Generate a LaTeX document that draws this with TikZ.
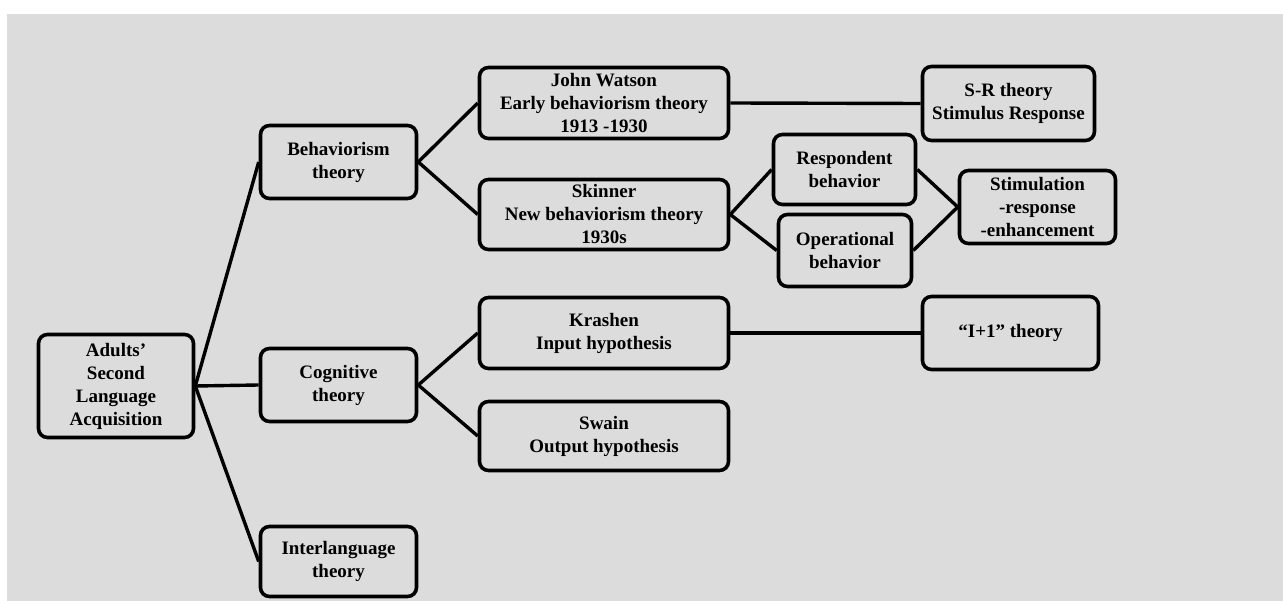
\documentclass[tikz,border=0pt]{standalone}
\usepackage{fontspec}
\setmainfont{Liberation Serif}
\definecolor{bggray}{RGB}{220,220,220}
\begin{document}
\begin{tikzpicture}[x=1pt,y=-1pt,
  box/.style={draw=black, line width=3.6pt, rounded corners=9pt, align=center,
    font=\fontsize{19}{23}\selectfont\bfseries, inner sep=0pt, fill=bggray},
  link/.style={line width=3.4pt}]
\useasboundingbox (0,0) rectangle (1283,601);
\fill[white] (0,0) rectangle (1283,601);
\fill[bggray] (7,14) rectangle (1283,601);

\node[box, minimum width=155pt, minimum height=103pt] (adults) at (116,386) {Adults’\\Second\\Language\\Acquisition};
\node[box, minimum width=156pt, minimum height=73pt] (beh) at (338.5,162) {Behaviorism\\theory};
\node[box, minimum width=156pt, minimum height=73pt] (cog) at (338.5,385) {Cognitive\\theory};
\node[box, minimum width=156pt, minimum height=70pt] (inter) at (338.5,561.5) {Interlanguage\\theory};
\node[box, minimum width=249pt, minimum height=71pt] (watson) at (604,103) {John Watson\\Early behaviorism theory\\1913 -1930};
\node[box, minimum width=249pt, minimum height=70pt] (skinner) at (604,214.5) {Skinner\\New behaviorism theory\\1930s};
\node[box, minimum width=249pt, minimum height=71pt] (krashen) at (604,333) {Krashen\\Input hypothesis};
\node[box, minimum width=249pt, minimum height=69pt] (swain) at (604,436) {Swain\\Output hypothesis};
\node[box, minimum width=142pt, minimum height=70pt] (resp) at (844.5,169.5) {Respondent\\behavior};
\node[box, minimum width=133pt, minimum height=72pt] (oper) at (845,250.5) {Operational\\behavior};
\node[box, minimum width=156pt, minimum height=73pt] (stim) at (1037.5,207) {Stimulation\\-response\\-enhancement};
\node[box, minimum width=172pt, minimum height=74pt] (sr) at (1008.5,103.5) {S-R theory\\Stimulus Response};
\node[box, minimum width=176pt, minimum height=73pt] (ii) at (1010.5,333) {“I+1” theory};

\draw[link] (adults.east) -- (beh.west);
\draw[link] (adults.east) -- (cog.west);
\draw[link] (adults.east) -- (inter.west);
\draw[link] (beh.east) -- (watson.west);
\draw[link] (beh.east) -- (skinner.west);
\draw[link] (watson.east) -- (sr.west);
\draw[link] (skinner.east) -- (resp.west);
\draw[link] (skinner.east) -- (oper.west);
\draw[link] (resp.east) -- (stim.west);
\draw[link] (oper.east) -- (stim.west);
\draw[link] (cog.east) -- (krashen.west);
\draw[link] (cog.east) -- (swain.west);
\draw[link] (krashen.east) -- (ii.west);
\end{tikzpicture}
\end{document}
